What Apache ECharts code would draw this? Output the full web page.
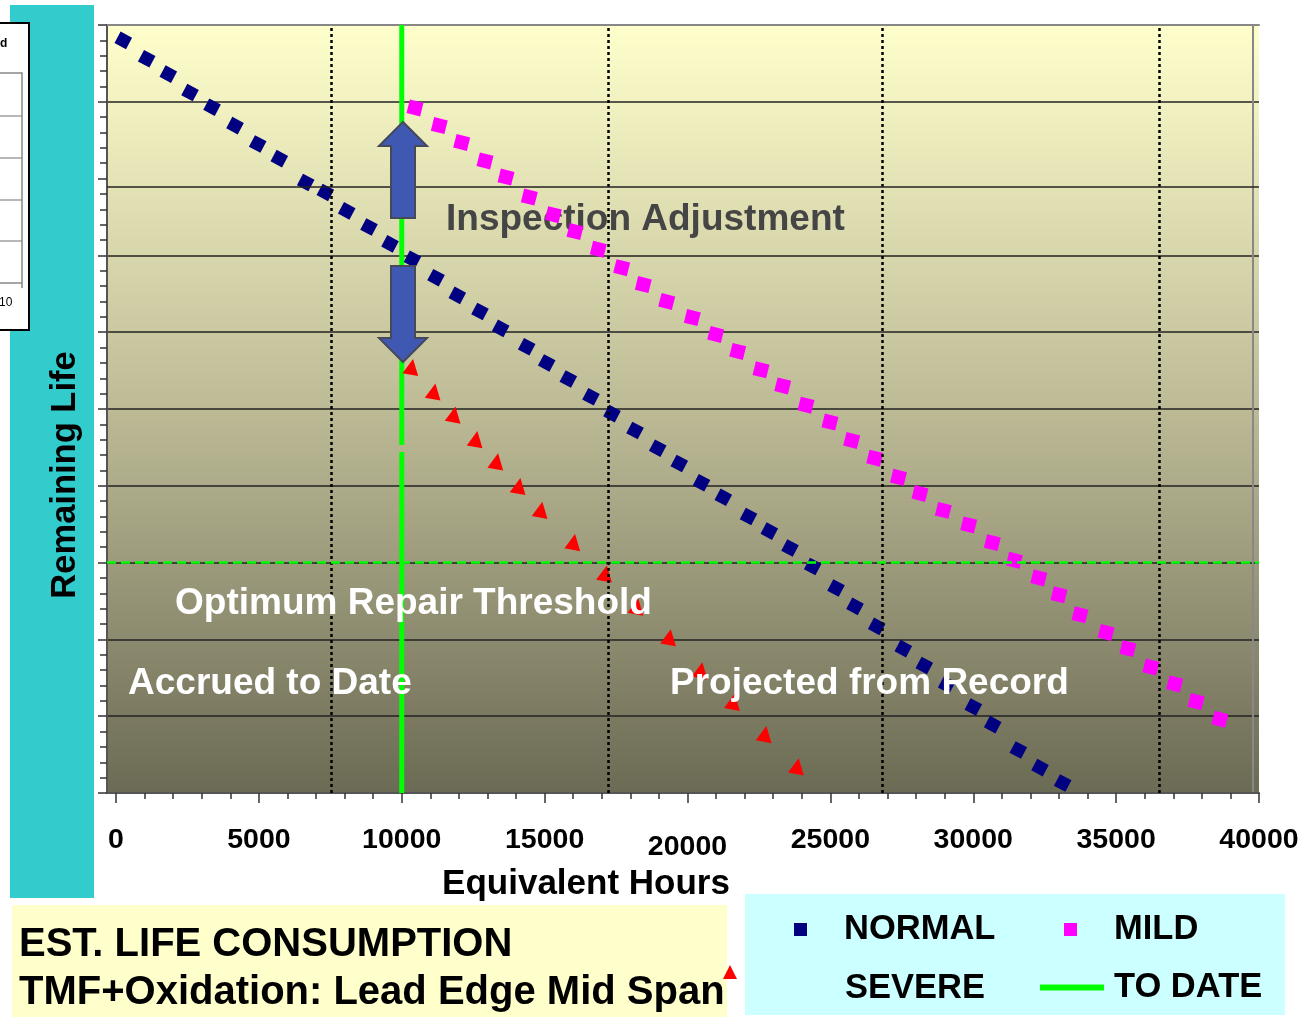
<!DOCTYPE html>
<html><head><meta charset="utf-8">
<script src="https://cdn.jsdelivr.net/npm/echarts@6/dist/echarts.min.js"></script>
<style>html,body{margin:0;padding:0;background:#fff;}#c{width:1311px;height:1017px;}</style>
</head><body><div id="c"></div>
<script>
// ---- data ----
const xTickLabels = [0, 5000, 10000, 15000, 20000, 25000, 30000, 35000, 40000];
const xMinorTicks = [0,1000,2000,3000,4000,5000,6000,7000,8000,9000,10000,11000,12000,13000,14000,15000,16000,17000,18000,19000,20000,21000,22000,23000,24000,25000,26000,27000,28000,29000,30000,31000,32000,33000,34000,35000,36000,37000,38000,39000,40000];

const normalHours = [255,1074,1830,2590,3360,4165,4959,5715,6639,7325,8074,8854,9589,10376,11199,11944,12738,13463,14373,15073,15829,16623,17358,18163,18957,19713,20490,21253,22135,22863,23587,24382,25197,25862,26621,27552,28287,29071,30002,30681,31577,32336,33130];
const normalLife  = [9.80,9.56,9.36,9.12,8.93,8.69,8.45,8.26,7.95,7.82,7.58,7.37,7.15,6.95,6.71,6.48,6.27,6.05,5.81,5.60,5.39,5.16,4.94,4.72,4.49,4.29,4.04,3.85,3.60,3.41,3.19,2.95,2.67,2.43,2.17,1.88,1.66,1.41,1.12,0.89,0.56,0.33,0.13];

const mildHours = [10464,11314,12098,12913,13648,14464,15304,16063,16878,17697,18453,19272,20168,20987,21757,22572,23332,24147,24987,25746,26551,27384,28136,28952,29841,30667,31437,32294,33001,33736,34649,35412,36217,37050,37799,38632];
const mildLife  = [8.92,8.69,8.47,8.23,8.02,7.76,7.53,7.31,7.08,6.84,6.62,6.40,6.19,5.97,5.75,5.51,5.30,5.05,4.83,4.59,4.36,4.11,3.90,3.68,3.49,3.26,3.03,2.80,2.58,2.32,2.09,1.88,1.64,1.42,1.19,0.96];

const severeHours = [10348,11129,11829,12598,13323,14103,14873,16017,17127,18226,19367,20472,21603,22712,23843];
const severeLife  = [5.55,5.23,4.93,4.61,4.32,4.00,3.69,3.27,2.86,2.43,2.03,1.60,1.19,0.77,0.35];

const toDateHours = [10000, 10000, 10000, 10000, 10000];
const toDateLife  = [0, 4.44, '-', 4.53, 10];

const refHours = [7520, 17230, 26800, 36500];   // dotted vertical lines
const thresholdLife = 3;                          // optimum repair threshold
const strayGridLife = 7.9;                        // offset grid line

const FONT = '"Liberation Sans", Arial, Helvetica, sans-serif';
const zip = (a, b) => a.map((v, i) => [v, b[i]]);

const gridColors = ['#222','#222','#222','#222','#222','#222','#222','#222','rgba(0,0,0,0)','#222','#888'];

const chart = echarts.init(document.getElementById('c'), null, {renderer: 'canvas'});

const legendText = (pad) => ({fontSize: 34.5, fontWeight: 'bold', color: '#000', fontFamily: FONT, padding: pad});

const option = {
  animation: false,
  backgroundColor: '#fff',
  title: {
    text: 'EST. LIFE CONSUMPTION\nTMF+Oxidation: Lead Edge Mid Span',
    left: 19, top: 921, padding: 0,
    textStyle: {fontSize: 40, fontWeight: 'bold', color: '#000', fontFamily: FONT, lineHeight: 48}
  },
  legend: [
    {data: [{name: 'NORMAL', icon: 'rect'}], left: 794, top: 912, padding: 0, itemWidth: 13, itemHeight: 13, selectedMode: false, textStyle: legendText([0,0,0,32])},
    {data: [{name: 'MILD', icon: 'rect'}], left: 1064, top: 912, padding: 0, itemWidth: 13, itemHeight: 13, selectedMode: false, textStyle: legendText([0,0,0,32])},
    {data: [{name: 'SEVERE', icon: 'triangle'}], left: 723, top: 965, padding: 0, itemWidth: 14, itemHeight: 14, selectedMode: false,
     formatter: '{s|{name}}',
     textStyle: {fontSize: 34.5, fontWeight: 'bold', color: '#000', fontFamily: FONT,
       rich: {s: {fontSize: 34.5, fontWeight: 'bold', color: '#000', fontFamily: FONT, padding: [32, 0, 0, 103]}}}},
    {data: [{name: 'TO DATE', icon: 'rect'}], left: 1040, top: 970, padding: 0, itemWidth: 64, itemHeight: 6, selectedMode: false, textStyle: legendText([0,0,0,5])}
  ],
  grid: {
    left: 107, top: 25, width: 1152, height: 768, show: true, borderWidth: 0,
    backgroundColor: new echarts.graphic.LinearGradient(0, 0, 0, 1, [
      {offset: 0, color: '#FFFFCC'}, {offset: 0.5, color: '#BDBB96'}, {offset: 1, color: '#6B6A54'}
    ])
  },
  xAxis: [
    {
      type: 'value', min: -315, max: 40000, position: 'bottom',
      axisLine: {show: true, onZero: false, lineStyle: {color: '#555', width: 2}},
      axisTick: {show: true, customValues: xMinorTicks, length: 6, lineStyle: {color: '#333', width: 1.5}},
      axisLabel: {
        customValues: xTickLabels, margin: 33, color: '#000',
        formatter: v => (v === 20000 ? '{low|' + v + '}' : '{n|' + v + '}'),
        rich: {
          n: {fontSize: 28.5, fontWeight: 'bold', fontFamily: FONT, color: '#000'},
          low: {fontSize: 28.5, fontWeight: 'bold', fontFamily: FONT, color: '#000', padding: [7, 0, 0, 0]}
        }
      },
      splitLine: {show: false},
      name: 'Equivalent Hours', nameLocation: 'middle', nameGap: 72,
      nameTextStyle: {fontSize: 35, fontWeight: 'bold', color: '#000', fontFamily: FONT, padding: [0, 194, 0, 0]}
    },
    {
      type: 'value', min: -315, max: 40000, position: 'bottom',
      axisLine: {show: false, onZero: false},
      axisTick: {show: true, customValues: xTickLabels, length: 10, lineStyle: {color: '#333', width: 1.5}},
      axisLabel: {show: false}, splitLine: {show: false}
    },
    {
      type: 'value', min: -315, max: 40000, position: 'top',
      axisLine: {show: true, onZero: false, lineStyle: {color: '#888', width: 2}},
      axisTick: {show: false}, axisLabel: {show: false}, splitLine: {show: false}
    }
  ],
  yAxis: [
    {
      type: 'value', min: 0, max: 10, interval: 1, position: 'left',
      axisLine: {show: true, onZero: false, lineStyle: {color: '#555', width: 2}},
      axisTick: {show: true, length: 9, lineStyle: {color: '#333', width: 1.5}},
      minorTick: {show: true, splitNumber: 5, length: 7, lineStyle: {color: '#333', width: 1.5}},
      axisLabel: {show: false},
      splitLine: {show: true, lineStyle: {color: gridColors, width: 1.5}},
      name: 'Remaining Life', nameLocation: 'middle', nameGap: 24, nameRotate: 90,
      nameTextStyle: {fontSize: 34.5, fontWeight: 'bold', color: '#000', fontFamily: FONT, padding: [0, 132, 0, 0]}
    },
    {
      type: 'value', min: 0, max: 10, position: 'right', offset: -6,
      axisLine: {show: true, onZero: false, lineStyle: {color: '#888', width: 2}},
      axisTick: {show: false}, axisLabel: {show: false}, splitLine: {show: false}
    }
  ],
  series: [
    {
      name: 'TO DATE', type: 'line', data: zip(toDateHours, toDateLife),
      symbol: 'none', connectNulls: false, color: '#00FF00',
      lineStyle: {color: '#00FF00', width: 5}, z: 2,
      markLine: {
        silent: true, symbol: ['none', 'none'], label: {show: false}, animation: false,
        data: [
          ...refHours.map(h => ({xAxis: h, lineStyle: {color: '#000', width: 2.5, type: [3, 3]}})),
          {yAxis: thresholdLife, lineStyle: {color: '#00FF00', width: 2.5, type: [9, 5]}},
          {yAxis: strayGridLife, lineStyle: {color: '#222', width: 1.5, type: 'solid'}}
        ]
      }
    },
    {
      name: 'NORMAL', type: 'scatter', data: zip(normalHours, normalLife),
      symbol: 'rect', symbolSize: 13, symbolRotate: -28, color: '#000080',
      itemStyle: {color: '#000080', opacity: 1}, z: 3
    },
    {
      name: 'MILD', type: 'scatter', data: zip(mildHours, mildLife),
      symbol: 'rect', symbolSize: 14, symbolRotate: -14, color: '#FF00FF',
      itemStyle: {color: '#FF00FF', opacity: 1}, z: 3
    },
    {
      name: 'SEVERE', type: 'scatter', data: zip(severeHours, severeLife),
      symbol: 'triangle', symbolSize: [16, 16], symbolRotate: -10, color: '#FF0000',
      itemStyle: {color: '#FF0000', opacity: 1}, z: 3
    }
  ],
  graphic: [
    // left teal panel
    {type: 'rect', shape: {x: 10, y: 5, width: 84, height: 893}, style: {fill: '#33CCCC'}, z: 0, silent: true},
    // cut-off inset box
    {type: 'rect', shape: {x: -3, y: 23, width: 32, height: 307}, style: {fill: '#fff', stroke: '#000', lineWidth: 2}, z: 1, silent: true},
    {type: 'text', x: 0, y: 44, style: {text: 'd', fontSize: 12, fontWeight: 'bold', fontFamily: FONT, fill: '#000', verticalAlign: 'middle'}, z: 2},
    {type: 'polyline', shape: {points: [[0,73],[22,73],[22,288]]}, style: {stroke: '#888', lineWidth: 1.5, fill: null}, z: 2},
    {type: 'line', shape: {x1: 0, y1: 116, x2: 22, y2: 116}, style: {stroke: '#888', lineWidth: 1.2}, z: 2},
    {type: 'line', shape: {x1: 0, y1: 158, x2: 22, y2: 158}, style: {stroke: '#888', lineWidth: 1.2}, z: 2},
    {type: 'line', shape: {x1: 0, y1: 200, x2: 22, y2: 200}, style: {stroke: '#888', lineWidth: 1.2}, z: 2},
    {type: 'line', shape: {x1: 0, y1: 241, x2: 22, y2: 241}, style: {stroke: '#888', lineWidth: 1.2}, z: 2},
    {type: 'line', shape: {x1: 0, y1: 283, x2: 22, y2: 283}, style: {stroke: '#888', lineWidth: 1.5}, z: 2},
    {type: 'text', x: -1, y: 303, style: {text: '10', fontSize: 12, fontFamily: FONT, fill: '#000', verticalAlign: 'middle'}, z: 2},
    // title box & legend box backgrounds
    {type: 'rect', shape: {x: 12, y: 905, width: 715, height: 112}, style: {fill: '#FFFFCC'}, z: 0, silent: true},
    {type: 'rect', shape: {x: 745, y: 894, width: 540, height: 121}, style: {fill: '#CCFFFF'}, z: 0, silent: true},
    // annotation texts
    {type: 'text', x: 446, y: 220, style: {text: 'Inspection Adjustment', fontSize: 37, fontWeight: 'bold', fontFamily: FONT, fill: '#454545', verticalAlign: 'middle'}, z: 1},
    {type: 'text', x: 175, y: 604, style: {text: 'Optimum Repair Threshold', fontSize: 37, fontWeight: 'bold', fontFamily: FONT, fill: '#fff', verticalAlign: 'middle'}, z: 100},
    {type: 'text', x: 128, y: 684, style: {text: 'Accrued to Date', fontSize: 37, fontWeight: 'bold', fontFamily: FONT, fill: '#fff', verticalAlign: 'middle'}, z: 100},
    {type: 'text', x: 670, y: 684, style: {text: 'Projected from Record', fontSize: 37, fontWeight: 'bold', fontFamily: FONT, fill: '#fff', verticalAlign: 'middle'}, z: 100},
    // inspection adjustment arrows
    {type: 'polygon', shape: {points: [[403,122],[427,146],[415,146],[415,218],[391,218],[391,146],[379,146]]}, style: {fill: '#3F59B3', stroke: '#46495A', lineWidth: 2}, z: 100},
    {type: 'polygon', shape: {points: [[391,266],[415,266],[415,338],[427,338],[403,362],[379,338],[391,338]]}, style: {fill: '#3F59B3', stroke: '#46495A', lineWidth: 2}, z: 100}
  ]
};
chart.setOption(option);
</script>
</body></html>
